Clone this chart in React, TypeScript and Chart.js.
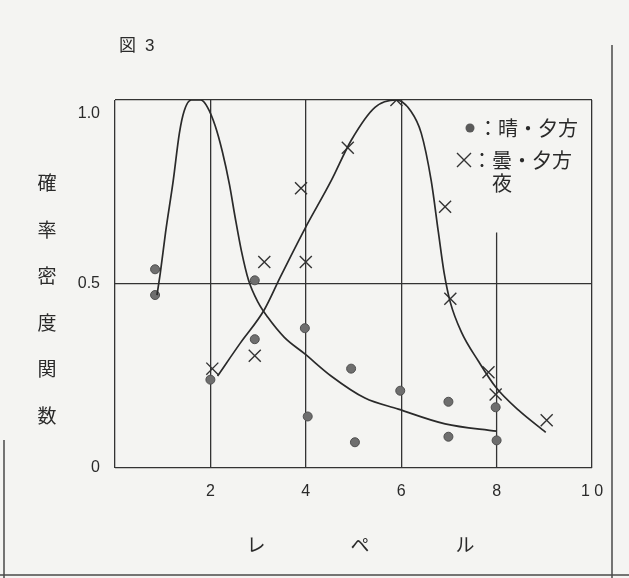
import React, { useEffect, useRef } from "react";
import { Chart, registerables } from "chart.js";

Chart.register(...registerables);

// ---- data ----
const xTickValues = [0, 2, 4, 6, 8, 10];
const xTickLabels = ["", "2", "4", "6", "8", "1 0"];
const yTickValues = [0, 0.5, 1.0];
const yTickLabels = ["0", "0.5", "1.0"];

// 晴・夕方 curve
const clearCurveX = [0.88, 0.95, 1.06, 1.22, 1.35, 1.45, 1.6, 1.8, 1.94, 2.1, 2.25, 2.4, 2.52, 2.65, 2.8, 3.0, 3.2, 3.55, 3.98, 4.53, 5.24, 5.94, 6.92, 8.0];
const clearCurveY = [0.47, 0.53, 0.64, 0.78, 0.91, 0.97, 1.0, 1.0, 0.98, 0.93, 0.86, 0.77, 0.68, 0.59, 0.51, 0.45, 0.41, 0.355, 0.31, 0.25, 0.19, 0.16, 0.12, 0.10];

// 曇・夕方/夜 curve
const cloudCurveX = [2.15, 2.63, 3.13, 3.47, 3.98, 4.53, 4.95, 5.45, 5.9, 6.2, 6.42, 6.63, 6.78, 6.9, 7.03, 7.26, 7.62, 7.98, 8.46, 9.03];
const cloudCurveY = [0.25, 0.34, 0.43, 0.52, 0.65, 0.78, 0.89, 0.98, 1.0, 0.97, 0.91, 0.78, 0.64, 0.53, 0.45, 0.37, 0.29, 0.22, 0.157, 0.097];

// ● points
const clearPointX = [0.84, 0.84, 2.0, 2.93, 2.93, 3.98, 4.04, 4.95, 5.03, 5.98, 6.99, 6.99, 7.98, 8.0];
const clearPointY = [0.54, 0.47, 0.24, 0.51, 0.35, 0.38, 0.14, 0.27, 0.07, 0.21, 0.18, 0.085, 0.165, 0.075];

// × points
const cloudPointX = [2.04, 2.93, 3.13, 3.9, 4.0, 4.88, 5.9, 6.92, 7.03, 7.83, 7.98, 9.05];
const cloudPointY = [0.27, 0.305, 0.56, 0.76, 0.56, 0.87, 1.0, 0.71, 0.46, 0.26, 0.2, 0.13];

const partialGridX = 8;
const partialGridTop = 0.64;

const yTitleChars = ["確", "率", "密", "度", "関", "数"];
const xTitleChars = ["レ", "ペ", "ル"];
const figTitle = ["図", "3"];
const legendClear = "：晴・夕方";
const legendCloud = "：曇・夕方";
const legendCloud2 = "夜";

const zip = (xs: number[], ys: number[]) => xs.map((x, i) => ({ x, y: ys[i] }));

const INK = "#2a2a2a";
const CJK = '"Noto Sans CJK JP", sans-serif';

const decorPlugin = {
  id: "decor",
  beforeDatasetsDraw(chart: any) {
    const { ctx, scales } = chart;
    const x = scales.x.getPixelForValue(partialGridX);
    ctx.save();
    ctx.strokeStyle = "#333";
    ctx.lineWidth = 1.3;
    ctx.beginPath();
    ctx.moveTo(x, scales.y.getPixelForValue(partialGridTop));
    ctx.lineTo(x, scales.y.getPixelForValue(0));
    ctx.stroke();
    ctx.restore();
  },
  afterDraw(chart: any) {
    const { ctx } = chart;
    ctx.save();
    ctx.fillStyle = INK;
    ctx.textBaseline = "middle";
    // figure title
    ctx.font = `17px ${CJK}`;
    ctx.textAlign = "left";
    ctx.fillText(figTitle[0], 119, 45);
    ctx.font = '17px "Liberation Sans", sans-serif';
    ctx.fillText(figTitle[1], 145, 46);
    // y title (vertical stacked)
    ctx.font = `19px ${CJK}`;
    ctx.textAlign = "center";
    yTitleChars.forEach((c, i) => ctx.fillText(c, 47, 183 + i * 46.5));
    // x title
    const xPos = [256, 360, 465];
    xTitleChars.forEach((c, i) => ctx.fillText(c, xPos[i], 545));
    // legend
    ctx.fillStyle = "#5a5a5a";
    ctx.beginPath();
    ctx.arc(470, 128, 4.5, 0, Math.PI * 2);
    ctx.fill();
    ctx.strokeStyle = "#333";
    ctx.lineWidth = 1.4;
    ctx.beginPath();
    ctx.moveTo(457, 153);
    ctx.lineTo(471, 167);
    ctx.moveTo(471, 153);
    ctx.lineTo(457, 167);
    ctx.stroke();
    ctx.fillStyle = INK;
    ctx.textAlign = "left";
    ctx.font = `20px ${CJK}`;
    ctx.fillText(legendClear, 478, 128);
    ctx.fillText(legendCloud, 472, 160);
    ctx.textAlign = "center";
    ctx.fillText(legendCloud2, 502, 183);
    // scan page edges
    ctx.strokeStyle = "#4a4a4a";
    ctx.lineWidth = 1.5;
    ctx.beginPath();
    ctx.moveTo(612, 45);
    ctx.lineTo(612, 578);
    ctx.moveTo(4, 440);
    ctx.lineTo(4, 578);
    ctx.moveTo(0, 575);
    ctx.lineTo(629, 575);
    ctx.stroke();
    ctx.restore();
  },
};

export default function App() {
  const ref = useRef<HTMLCanvasElement | null>(null);
  useEffect(() => {
    if (!ref.current) return;
    const chart = new Chart(ref.current, {
      type: "scatter",
      data: {
        datasets: [
          {
            type: "line",
            data: zip(clearCurveX, clearCurveY),
            borderColor: INK,
            borderWidth: 1.7,
            pointRadius: 0,
            cubicInterpolationMode: "monotone",
            fill: false,
          } as any,
          {
            type: "line",
            data: zip(cloudCurveX, cloudCurveY),
            borderColor: INK,
            borderWidth: 1.7,
            pointRadius: 0,
            cubicInterpolationMode: "monotone",
            fill: false,
          } as any,
          {
            type: "scatter",
            data: zip(clearPointX, clearPointY),
            pointStyle: "circle",
            pointRadius: 4.5,
            backgroundColor: "#6e6e6e",
            borderColor: "#4e4e4e",
            borderWidth: 1,
          },
          {
            type: "scatter",
            data: zip(cloudPointX, cloudPointY),
            pointStyle: "crossRot",
            pointRadius: 8.5,
            borderColor: "#333",
            borderWidth: 1.4,
          },
        ],
      },
      options: {
        responsive: false,
        animation: false,
        layout: { padding: { top: 100, right: 37, bottom: 0, left: 0 } },
        plugins: { legend: { display: false }, tooltip: { enabled: false }, title: { display: false } },
        scales: {
          x: {
            type: "linear",
            min: 0,
            max: 10,
            afterBuildTicks: (s: any) => {
              s.ticks = xTickValues.map((v) => ({ value: v }));
            },
            afterFit: (s: any) => {
              s.height = 110;
            },
            ticks: {
              autoSkip: false,
              maxRotation: 0,
              padding: 14,
              color: INK,
              font: { family: '"Liberation Sans", sans-serif', size: 16 },
              callback: (v: any) => {
                const i = xTickValues.indexOf(Number(v));
                return i >= 0 ? xTickLabels[i] : "";
              },
            },
            grid: {
              drawTicks: false,
              lineWidth: 1.3,
              color: (c: any) => (c.tick && c.tick.value === partialGridX ? "rgba(0,0,0,0)" : "#333"),
            },
            border: { display: false },
          },
          y: {
            type: "linear",
            min: 0,
            max: 1,
            afterBuildTicks: (s: any) => {
              s.ticks = yTickValues.map((v) => ({ value: v }));
            },
            afterFit: (s: any) => {
              s.width = 115;
            },
            ticks: {
              padding: 15,
              color: INK,
              font: (c: any) =>
                c.tick && c.tick.value === 1
                  ? { family: '"Liberation Sans", sans-serif', size: 16, lineHeight: 1.75 }
                  : { family: '"Liberation Sans", sans-serif', size: 16 },
              callback: (v: any) => {
                const i = yTickValues.indexOf(Number(v));
                if (i < 0) return "";
                return Number(v) === 1 ? ["", yTickLabels[i]] : yTickLabels[i];
              },
            },
            grid: { drawTicks: false, lineWidth: 1.3, color: "#333" },
            border: { display: false },
          },
        },
      },
      plugins: [decorPlugin],
    });
    return () => chart.destroy();
  }, []);
  return (
    <div style={{ position: "absolute", left: 0, top: 0, width: 629, height: 578, background: "#f4f4f2" }}>
      <canvas ref={ref} width={629} height={578} style={{ display: "block" }} />
    </div>
  );
}
